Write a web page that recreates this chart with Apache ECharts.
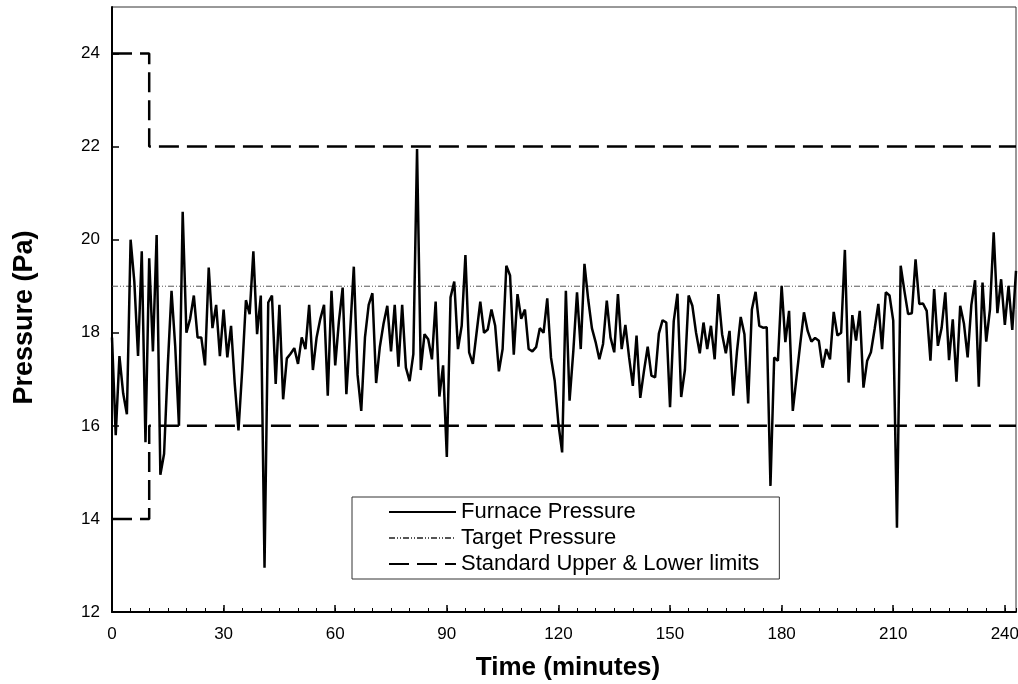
<!DOCTYPE html>
<html style="height: 100%">
<head>
    <meta charset="utf-8">
    <script src="https://cdn.jsdelivr.net/npm/echarts@6/dist/echarts.min.js"></script>
</head>
<body style="height:100%;margin:0;background:#fff">
    <div id="main" style="width:1018px;height:684px;"></div>
    <script type="text/javascript">

        // furnace pressure, one reading per minute (0 .. 243)
        var furnace = [
            17.9, 15.8, 17.5, 16.7, 16.25, 20.0, 19.1, 17.5, 19.75, 15.65,
            19.6, 17.6, 20.1, 14.95, 15.4, 17.3, 18.9, 17.7, 16.0, 20.6,
            18.0, 18.3, 18.8, 17.9, 17.9, 17.3, 19.4, 18.1, 18.6, 17.5,
            18.5, 17.47, 18.15, 16.9, 15.9, 17.2, 18.7, 18.4, 19.75, 17.97,
            18.8, 12.95, 18.65, 18.8, 16.9, 18.6, 16.57, 17.45, 17.55, 17.67,
            17.33, 17.9, 17.65, 18.6, 17.2, 17.9, 18.3, 18.6, 16.65, 18.9,
            17.3, 18.25, 18.97, 16.68, 18.0, 19.42, 17.1, 16.32, 17.9, 18.6,
            18.85, 16.92, 17.7, 18.2, 18.58, 17.6, 18.6, 17.27, 18.6, 17.25,
            16.96, 17.54, 21.95, 17.2, 17.97, 17.86, 17.43, 18.67, 16.63, 17.3,
            15.33, 18.76, 19.1, 17.65, 18.15, 19.67, 17.58, 17.33, 18.0, 18.67,
            18.0, 18.07, 18.5, 18.15, 17.17, 17.65, 19.44, 19.23, 17.53, 18.83,
            18.3, 18.5, 17.65, 17.6, 17.69, 18.1, 18.0, 18.74, 17.47, 16.97,
            16.04, 15.43, 18.9, 16.54, 17.6, 18.87, 17.65, 19.48, 18.72, 18.1,
            17.8, 17.43, 17.76, 18.69, 17.9, 17.58, 18.83, 17.65, 18.17, 17.47,
            16.86, 17.94, 16.6, 17.18, 17.7, 17.08, 17.04, 17.98, 18.27, 18.22,
            16.4, 18.25, 18.84, 16.62, 17.2, 18.8, 18.58, 18.0, 17.56, 18.22,
            17.65, 18.15, 17.43, 18.83, 17.97, 17.56, 18.04, 16.65, 17.6, 18.34,
            17.97, 16.48, 18.5, 18.88, 18.15, 18.11, 18.12, 14.71, 17.47, 17.4,
            19.01, 17.8, 18.47, 16.32, 17.04, 17.76, 18.44, 18.04, 17.81, 17.89,
            17.83, 17.25, 17.65, 17.43, 18.45, 17.94, 18.0, 19.78, 16.93, 18.38,
            17.83, 18.47, 16.82, 17.4, 17.58, 18.08, 18.62, 17.65, 18.87, 18.8,
            18.26, 13.81, 19.44, 18.9, 18.4, 18.42, 19.58, 18.62, 18.63, 18.47,
            17.4, 18.94, 17.72, 18.1, 18.87, 17.41, 18.29, 16.95, 18.58, 18.2,
            17.47, 18.6, 19.13, 16.84, 19.08, 17.81, 18.5, 20.16, 18.42, 19.15,
            18.17, 19.01, 18.06, 19.33
        ];

        var target = 19;
        var limitTimes = [0, 10, 10, 243];
        var upperLimit = [24, 24, 22, 22];
        var lowerLimit = [14, 14, 16, 16];
        var endTime = 243;

        var seriesNames = ['Furnace Pressure', 'Target Pressure', 'Standard Upper & Lower limits'];

        var furnaceData = furnace.map(function (v, i) { return [i, v]; });
        var upperData = limitTimes.map(function (t, i) { return [t, upperLimit[i]]; });
        var lowerData = limitTimes.map(function (t, i) { return [t, lowerLimit[i]]; });
        var targetData = [[0, target], [endTime, target]];

        var font = "'Liberation Sans', Arial, sans-serif";
        var limitStyle = { color: '#000', width: 2.5, type: [20, 8] };

        var myChart = echarts.init(document.getElementById('main'));
        var option = {
            animation: false,
            backgroundColor: '#fff',
            textStyle: { fontFamily: font },
            grid: {
                left: 112, right: 2, top: 7, bottom: 72,
                outerBoundsMode: 'none',
                containLabel: false,
                show: true, borderColor: '#333', borderWidth: 1
            },
            legend: {
                data: seriesNames,
                orient: 'vertical',
                left: 352,
                top: 497,
                padding: [4, 20, 4, 36],
                itemWidth: 67,
                itemHeight: 14,
                itemGap: 4,
                itemStyle: { opacity: 0 },
                borderColor: '#333',
                borderWidth: 1,
                backgroundColor: '#fff',
                textStyle: { fontFamily: font, fontSize: 22, lineHeight: 22, color: '#000' }
            },
            xAxis: [{
                type: 'value',
                min: 0, max: endTime, interval: 30,
                name: 'Time (minutes)',
                nameLocation: 'middle',
                nameGap: 43,
                nameTextStyle: { fontFamily: font, fontSize: 26, fontWeight: 'bold', color: '#000', padding: [0, 0, 0, 8] },
                axisLine: { lineStyle: { color: '#000', width: 2 } },
                axisTick: { inside: true, length: 7, lineStyle: { color: '#000', width: 1.5 } },
                axisLabel: { fontFamily: font, fontSize: 17, color: '#000', margin: 14, showMaxLabel: false },
                splitLine: { show: false }
            }, {
                // minor ticks every 5 minutes
                type: 'value',
                position: 'bottom',
                min: 0, max: endTime, interval: 5,
                axisLine: { show: false },
                axisTick: { inside: true, length: 4, lineStyle: { color: '#000', width: 1 } },
                axisLabel: { show: false },
                splitLine: { show: false }
            }],
            yAxis: {
                type: 'value',
                min: 12, max: 25, interval: 2,
                name: 'Pressure (Pa)',
                nameLocation: 'middle',
                nameGap: 74,
                nameTextStyle: { fontFamily: font, fontSize: 27, fontWeight: 'bold', color: '#000', padding: [0, 16, 0, 0] },
                axisLine: { show: true, lineStyle: { color: '#000', width: 2 } },
                axisTick: { show: true, inside: true, length: 7, lineStyle: { color: '#000', width: 1.5 } },
                axisLabel: { fontFamily: font, fontSize: 17, color: '#000', margin: 12, showMaxLabel: false },
                splitLine: { show: false }
            },
            series: [
                {
                    name: seriesNames[0],
                    type: 'line',
                    symbol: 'none',
                    data: furnaceData,
                    lineStyle: { color: '#000', width: 2.5 },
                    itemStyle: { color: '#000' },
                    z: 5
                },
                {
                    name: seriesNames[1],
                    type: 'line',
                    symbol: 'none',
                    data: targetData,
                    lineStyle: { color: '#555', width: 1, type: [6, 2, 1, 2, 1, 2] },
                    itemStyle: { color: '#555' },
                    z: 3
                },
                {
                    name: seriesNames[2],
                    type: 'line',
                    symbol: 'none',
                    data: upperData,
                    lineStyle: limitStyle,
                    itemStyle: { color: '#000' },
                    z: 4
                },
                {
                    name: seriesNames[2],
                    type: 'line',
                    symbol: 'none',
                    data: lowerData,
                    lineStyle: limitStyle,
                    itemStyle: { color: '#000' },
                    z: 4
                }
            ]
        };
        myChart.setOption(option);
    </script>
</body>
</html>
